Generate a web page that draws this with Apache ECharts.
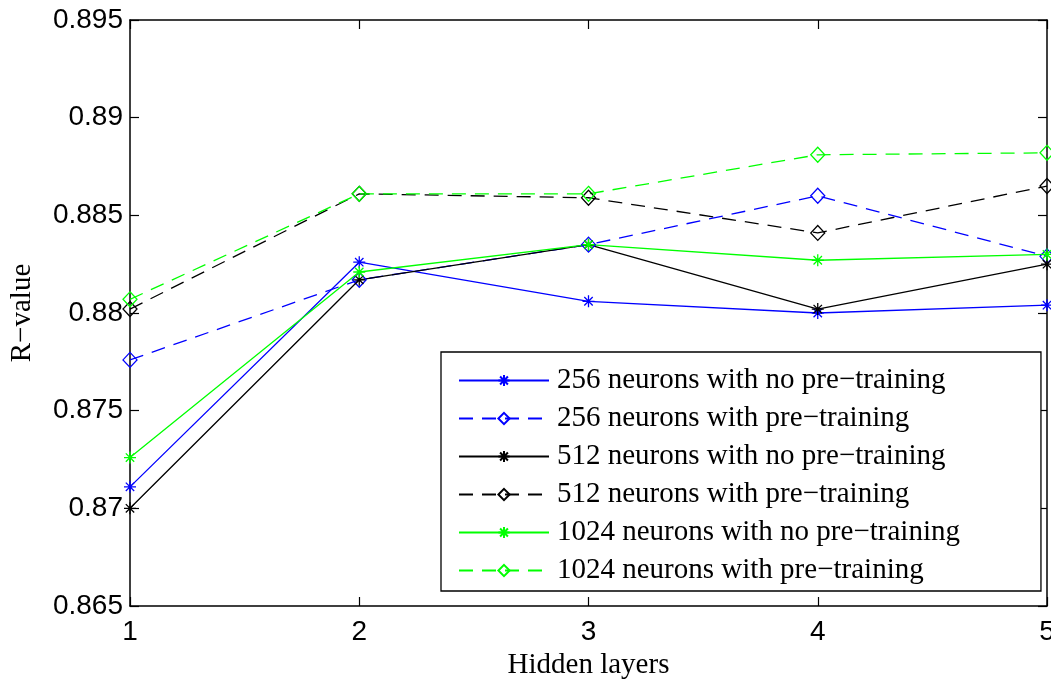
<!DOCTYPE html>
<html>
<head>
<meta charset="utf-8">
<script src="https://cdn.jsdelivr.net/npm/echarts@6/dist/echarts.min.js"></script>
<style>
html,body{margin:0;padding:0;background:#fff;}
#chart{width:1051px;height:682px;}
</style>
</head>
<body>
<div id="chart"></div>
<script>
var hiddenLayers = [1, 2, 3, 4, 5];
var yTicks = [0.865, 0.87, 0.875, 0.88, 0.885, 0.89, 0.895];
var seriesNames = [
  '256 neurons with no pre\u2212training',
  '256 neurons with pre\u2212training',
  '512 neurons with no pre\u2212training',
  '512 neurons with pre\u2212training',
  '1024 neurons with no pre\u2212training',
  '1024 neurons with pre\u2212training'
];
var n256NoPre  = [0.8711, 0.8826, 0.8806, 0.8800, 0.8804];
var n256Pre    = [0.8776, 0.8817, 0.8835, 0.8860, 0.8829];
var n512NoPre  = [0.8700, 0.8817, 0.8835, 0.8802, 0.8825];
var n512Pre    = [0.8802, 0.8861, 0.8859, 0.8841, 0.8865];
var n1024NoPre = [0.8726, 0.8821, 0.8835, 0.8827, 0.8830];
var n1024Pre   = [0.8807, 0.8861, 0.8861, 0.8881, 0.8882];

var starPath = 'path://M0,-6L0,6M-6,0L6,0M-4.2,-4.2L4.2,4.2M-4.2,4.2L4.2,-4.2';
var diamondPath = 'path://M0,-7L7,0L0,7L-7,0Z';

function pairs(vals){ return hiddenLayers.map(function(x,i){ return [x, vals[i]]; }); }

function mk(name, vals, color, dashed){
  return {
    name: name,
    type: 'line',
    data: pairs(vals),
    xAxisIndex: 0, yAxisIndex: 0,
    symbol: dashed ? diamondPath : starPath,
    symbolSize: dashed ? [14, 15] : 12,
    showAllSymbol: true,
    lineStyle: {color: color, width: 1.3, type: dashed ? [14, 9] : 'solid'},
    itemStyle: {color: dashed ? 'rgba(0,0,0,0)' : color, borderColor: color, borderWidth: 1.3},
    emphasis: {disabled: true},
    animation: false
  };
}

var chart = echarts.init(document.getElementById('chart'), null, {renderer: 'canvas'});
var axisCommon = {
  type: 'value',
  splitLine: {show: false},
  axisLine: {show: true, onZero: false, lineStyle: {color: '#000', width: 1.5}},
  axisTick: {show: true, inside: true, length: 9, lineStyle: {color: '#000', width: 1.2}}
};
var option = {
  backgroundColor: '#fff',
  animation: false,
  grid: {left: 130, right: 4, top: 20, bottom: 76, containLabel: false, outerBoundsMode: 'none'},
  xAxis: [
    Object.assign({}, axisCommon, {
      position: 'bottom', min: 1, max: 5, interval: 1,
      name: 'Hidden layers', nameLocation: 'middle', nameGap: 45,
      nameTextStyle: {fontFamily: 'Liberation Serif', fontSize: 29, color: '#000'},
      axisLabel: {fontFamily: 'Liberation Sans', fontSize: 28, color: '#000', margin: 12}
    }),
    Object.assign({}, axisCommon, {
      position: 'top', min: 1, max: 5, interval: 1, axisLabel: {show: false}
    })
  ],
  yAxis: [
    Object.assign({}, axisCommon, {
      position: 'left', min: yTicks[0], max: yTicks[yTicks.length-1], interval: 0.005,
      name: 'R\u2212value', nameLocation: 'middle', nameGap: 93, nameRotate: 90,
      nameTextStyle: {fontFamily: 'Liberation Serif', fontSize: 29, color: '#000'},
      axisLabel: {fontFamily: 'Liberation Sans', fontSize: 28, color: '#000', margin: 7,
        formatter: function(v){ return String(+(+v).toFixed(3)); }}
    }),
    Object.assign({}, axisCommon, {
      position: 'right', min: yTicks[0], max: yTicks[yTicks.length-1], interval: 0.005,
      axisLabel: {show: false}
    })
  ],
  legend: {
    orient: 'vertical',
    left: 441, top: 352,
    padding: [14, 81, 6, 17],
    itemWidth: 90, itemHeight: 14, itemGap: 9,
    borderColor: '#000', borderWidth: 1.3, backgroundColor: '#fff',
    selectedMode: false,
    textStyle: {fontFamily: 'Liberation Serif', fontSize: 29, lineHeight: 28, color: '#000', padding: [0,0,0,3]},
    data: seriesNames
  },
  series: [
    mk(seriesNames[0], n256NoPre, '#0000ff', false),
    mk(seriesNames[1], n256Pre, '#0000ff', true),
    mk(seriesNames[2], n512NoPre, '#000000', false),
    mk(seriesNames[3], n512Pre, '#000000', true),
    mk(seriesNames[4], n1024NoPre, '#00ff00', false),
    mk(seriesNames[5], n1024Pre, '#00ff00', true)
  ]
};
chart.setOption(option);
</script>
</body>
</html>
